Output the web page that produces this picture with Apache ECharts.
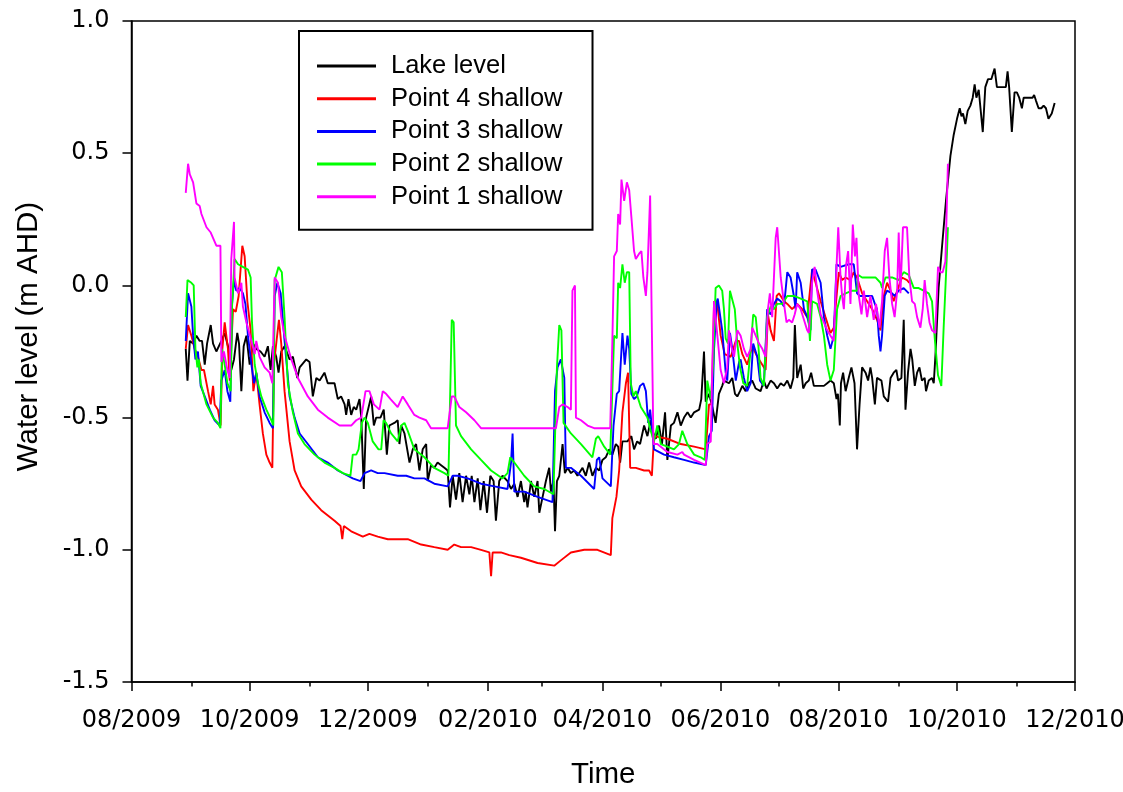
<!DOCTYPE html>
<html>
<head>
<meta charset="utf-8">
<script src="https://cdn.jsdelivr.net/npm/echarts@6/dist/echarts.min.js"></script>
<style>
  html, body { margin: 0; padding: 0; background: #ffffff; }
  #chart { width: 1123px; height: 792px; }
</style>
</head>
<body>
<div id="chart"></div>
<script>
// Water level records. Each entry is [day of record, level in m AHD];
// day 0 is 1 August 2009.
const seriesNames = ['Lake level', 'Point 4 shallow', 'Point 3 shallow', 'Point 2 shallow', 'Point 1 shallow'];
const seriesColors = ['#000000', '#ff0000', '#0000ff', '#00ff00', '#ff00ff'];

const lakeLevel = [
  [28.0,-0.24],[28.9,-0.36],[30.1,-0.21],[31.8,-0.22],[33.5,-0.19],[35.2,-0.21],[36.4,-0.21],[37.8,-0.30],[39.0,-0.22],[40.9,-0.15],
  [42.1,-0.22],[43.8,-0.25],[46.4,-0.21],[48.1,-0.18],[49.8,-0.23],[51.5,-0.32],[52.9,-0.28],[54.6,-0.18],[55.5,-0.22],[56.7,-0.40],
  [57.9,-0.23],[59.3,-0.19],[61.0,-0.30],[62.7,-0.22],[64.4,-0.24],[66.6,-0.25],[68.7,-0.27],[70.4,-0.23],[71.8,-0.32],[73.0,-0.23],
  [74.7,-0.27],[75.9,-0.33],[77.3,-0.25],[79.0,-0.23],[81.6,-0.28],[83.3,-0.27],[85.6,-0.35],[86.8,-0.31],[90.2,-0.28],[91.9,-0.29],
  [93.6,-0.42],[95.4,-0.35],[97.1,-0.36],[99.6,-0.33],[101.3,-0.37],[104.8,-0.37],[106.5,-0.43],[108.2,-0.42],[110.0,-0.45],[110.8,-0.49],
  [112.0,-0.43],[113.4,-0.49],[114.7,-0.46],[116.0,-0.47],[117.7,-0.43],[118.6,-0.50],[119.9,-0.77],[121.1,-0.50],[123.7,-0.42],[125.1,-0.53],
  [126.3,-0.50],[128.5,-0.50],[130.2,-0.47],[131.8,-0.64],[133.1,-0.53],[135.7,-0.52],[137.4,-0.51],[138.3,-0.60],[139.2,-0.53],[140.9,-0.56],
  [143.5,-0.67],[145.2,-0.62],[146.9,-0.60],[148.6,-0.70],[150.3,-0.62],[152.1,-0.60],[152.9,-0.74],[154.6,-0.68],[156.3,-0.69],[158.0,-0.67],
  [159.8,-0.68],[161.5,-0.69],[163.2,-0.70],[164.4,-0.84],[165.8,-0.72],[167.5,-0.81],[169.2,-0.71],[170.9,-0.82],[172.7,-0.72],[174.4,-0.79],
  [175.6,-0.72],[177.0,-0.82],[178.7,-0.73],[180.1,-0.85],[181.8,-0.74],[183.5,-0.86],[185.2,-0.72],[186.9,-0.74],[188.1,-0.89],[189.8,-0.74],
  [191.5,-0.72],[194.1,-0.74],[195.9,-0.77],[197.6,-0.75],[199.3,-0.80],[201.0,-0.74],[202.7,-0.82],[203.5,-0.78],[204.4,-0.84],[206.2,-0.74],
  [207.9,-0.80],[209.6,-0.74],[210.5,-0.86],[212.2,-0.80],[213.9,-0.74],[215.6,-0.69],[216.5,-0.78],[217.8,-0.74],[218.6,-0.93],[219.6,-0.74],
  [220.8,-0.72],[222.5,-0.60],[223.7,-0.71],[225.1,-0.69],[226.8,-0.71],[228.5,-0.70],[230.2,-0.72],[232.8,-0.69],[234.5,-0.72],[236.2,-0.67],
  [237.9,-0.72],[239.7,-0.69],[241.4,-0.70],[243.1,-0.66],[244.8,-0.65],[246.6,-0.62],[248.2,-0.64],[250.0,-0.60],[251.2,-0.61],[252.2,-0.67],
  [253.4,-0.59],[256.0,-0.59],[258.0,-0.57],[259.4,-0.62],[261.0,-0.59],[262.5,-0.60],[264.6,-0.53],[266.3,-0.57],[268.0,-0.51],[269.4,-0.56],
  [270.6,-0.58],[272.3,-0.53],[273.8,-0.60],[275.4,-0.48],[276.6,-0.66],[278.4,-0.53],[280.0,-0.52],[281.8,-0.48],[283.5,-0.53],[285.2,-0.50],
  [287.0,-0.48],[288.7,-0.50],[290.4,-0.48],[293.0,-0.47],[294.1,-0.43],[295.5,-0.25],[296.4,-0.44],[298.1,-0.41],[299.8,-0.46],[301.5,-0.52],
  [303.2,-0.41],[304.9,-0.38],[305.8,-0.36],[308.4,-0.37],[310.1,-0.35],[311.5,-0.41],[312.7,-0.42],[314.1,-0.40],[315.3,-0.38],[317.0,-0.40],
  [318.6,-0.37],[320.4,-0.36],[322.2,-0.39],[324.7,-0.40],[326.4,-0.36],[327.8,-0.39],[329.9,-0.36],[331.6,-0.37],[333.3,-0.39],[335.1,-0.37],
  [336.8,-0.38],[338.5,-0.36],[340.2,-0.39],[341.6,-0.35],[342.4,-0.15],[343.6,-0.35],[345.4,-0.30],[346.7,-0.39],[348.0,-0.37],[349.6,-0.36],
  [350.8,-0.33],[352.2,-0.38],[353.9,-0.38],[355.7,-0.38],[357.4,-0.38],[359.1,-0.37],[360.8,-0.36],[362.5,-0.37],[363.9,-0.43],[364.6,-0.41],
  [365.6,-0.53],[366.2,-0.37],[367.3,-0.33],[368.6,-0.40],[370.2,-0.35],[371.6,-0.31],[373.2,-0.37],[374.5,-0.62],[375.8,-0.45],[377.1,-0.31],
  [378.9,-0.33],[380.2,-0.36],[381.4,-0.31],[382.3,-0.35],[383.7,-0.45],[384.8,-0.35],[387.1,-0.36],[388.3,-0.42],[390.5,-0.44],[391.8,-0.35],
  [393.4,-0.33],[394.8,-0.32],[395.7,-0.36],[397.4,-0.35],[398.6,-0.13],[399.5,-0.47],[400.8,-0.33],[402.1,-0.24],[403.0,-0.28],[404.3,-0.38],
  [405.5,-0.33],[406.7,-0.31],[408.0,-0.36],[409.4,-0.35],[410.1,-0.40],[411.5,-0.36],[413.2,-0.35],[414.1,-0.37],[415.0,-0.26],[416.6,-0.01],
  [418.4,0.15],[420.4,0.32],[422.7,0.49],[424.4,0.57],[426.1,0.63],[427.5,0.67],[428.4,0.64],[429.2,0.65],[430.4,0.61],[431.6,0.66],
  [433.0,0.68],[434.2,0.71],[435.2,0.76],[436.1,0.71],[437.3,0.74],[438.2,0.74],[439.4,0.58],[440.7,0.75],[442.1,0.78],[443.8,0.78],
  [445.5,0.82],[446.7,0.75],[448.4,0.75],[450.1,0.75],[451.3,0.75],[452.2,0.81],[453.0,0.75],[454.4,0.58],[455.8,0.73],[457.0,0.73],
  [458.2,0.71],[459.6,0.67],[460.5,0.71],[462.2,0.71],[463.9,0.71],[465.1,0.71],[465.9,0.72],[466.8,0.70],[468.2,0.67],[469.6,0.67],
  [470.8,0.68],[472.0,0.67],[473.3,0.63],[475.0,0.65],[476.5,0.69]
];

const point4Shallow = [
  [28.0,-0.24],[29.2,-0.15],[30.9,-0.19],[32.6,-0.24],[34.3,-0.27],[36.1,-0.32],[37.4,-0.32],[39.5,-0.40],[40.9,-0.45],[42.1,-0.38],
  [42.9,-0.45],[44.6,-0.47],[46.0,-0.53],[46.9,-0.24],[48.1,-0.14],[49.8,-0.24],[50.7,-0.36],[52.4,-0.09],[53.8,-0.10],[55.3,-0.04],
  [57.2,0.15],[58.4,0.11],[59.8,-0.06],[61.5,-0.17],[62.9,-0.40],[64.4,-0.33],[66.1,-0.45],[67.8,-0.56],[69.6,-0.64],[71.3,-0.67],
  [72.7,-0.69],[73.5,-0.30],[74.7,-0.22],[76.1,-0.13],[77.3,-0.22],[79.0,-0.40],[81.6,-0.59],[84.2,-0.70],[87.6,-0.76],[92.8,-0.81],
  [97.9,-0.85],[104.8,-0.89],[107.9,-0.91],[108.8,-0.96],[109.6,-0.91],[113.4,-0.93],[119.4,-0.95],[122.8,-0.94],[127.1,-0.95],[132.3,-0.96],
  [142.6,-0.96],[149.5,-0.98],[156.3,-0.99],[163.2,-1.00],[166.6,-0.98],[170.1,-0.99],[175.3,-0.99],[180.4,-1.00],[184.7,-1.01],[185.6,-1.10],
  [186.4,-1.01],[190.7,-1.01],[195.0,-1.02],[201.0,-1.03],[209.6,-1.05],[218.2,-1.06],[221.6,-1.04],[226.8,-1.01],[233.7,-1.00],[240.5,-1.00],
  [247.4,-1.02],[248.2,-0.88],[250.3,-0.80],[251.7,-0.70],[253.4,-0.48],[255.2,-0.37],[256.3,-0.33],[257.4,-0.69],[260.3,-0.69],[264.6,-0.70],
  [267.2,-0.70],[268.6,-0.72],[269.7,-0.57],[276.6,-0.58],[283.5,-0.60],[290.4,-0.61],[296.4,-0.62],[298.1,-0.45],[299.5,-0.45],[300.7,-0.06],
  [302.4,-0.07],[304.1,-0.19],[306.2,-0.26],[309.3,-0.27],[311.9,-0.21],[313.6,-0.21],[315.3,-0.26],[317.8,-0.30],[320.4,-0.23],[323.0,-0.27],
  [325.6,-0.30],[327.3,-0.32],[328.5,-0.11],[329.9,-0.17],[331.6,-0.21],[333.0,-0.04],[334.2,-0.03],[336.8,-0.06],[338.5,-0.07],[341.0,-0.09],
  [343.6,-0.07],[346.2,-0.09],[348.8,-0.12],[351.3,0.06],[353.1,0.01],[355.7,-0.06],[358.2,-0.12],[360.8,-0.18],[362.5,-0.16],[364.2,-0.02],
  [365.1,0.05],[366.8,0.02],[368.6,0.03],[371.1,0.02],[372.8,0.05],[374.5,0.03],[377.1,-0.03],[379.7,-0.06],[382.3,-0.09],[384.8,-0.13],
  [386.6,-0.17],[388.3,-0.04],[390.0,0.01],[391.8,-0.02],[393.4,-0.06],[395.2,-0.02],[397.7,0.03],[400.3,0.02],[401.5,0.01]
];

const point3Shallow = [
  [28.0,-0.21],[29.2,-0.03],[30.9,-0.08],[31.8,-0.19],[33.0,-0.28],[34.3,-0.25],[35.7,-0.38],[37.8,-0.42],[40.4,-0.47],[42.9,-0.51],
  [45.5,-0.53],[46.4,-0.36],[48.1,-0.32],[49.5,-0.40],[51.0,-0.44],[51.9,-0.07],[52.9,0.02],[54.1,-0.02],[55.8,-0.01],[57.5,-0.03],
  [58.8,-0.07],[60.1,-0.19],[61.9,-0.30],[63.2,-0.37],[64.4,-0.33],[66.1,-0.42],[68.7,-0.48],[71.3,-0.52],[73.0,-0.54],[73.9,-0.04],
  [75.3,0.01],[77.0,-0.03],[79.0,-0.21],[81.6,-0.42],[84.2,-0.50],[86.8,-0.56],[91.0,-0.60],[96.2,-0.65],[101.3,-0.67],[106.5,-0.70],
  [111.6,-0.72],[114.2,-0.73],[118.2,-0.74],[120.3,-0.71],[123.7,-0.70],[127.1,-0.71],[130.6,-0.71],[137.4,-0.72],[141.8,-0.72],[146.0,-0.73],
  [151.2,-0.73],[156.3,-0.75],[163.2,-0.76],[165.8,-0.72],[168.4,-0.72],[173.5,-0.73],[180.4,-0.75],[187.3,-0.76],[194.1,-0.77],[195.9,-0.67],
  [196.7,-0.56],[197.6,-0.78],[202.7,-0.78],[209.6,-0.80],[217.3,-0.82],[218.6,-0.40],[219.9,-0.31],[221.6,-0.28],[223.4,-0.35],[224.2,-0.69],
  [226.8,-0.69],[232.0,-0.72],[238.8,-0.77],[240.2,-0.66],[241.4,-0.65],[243.1,-0.73],[247.4,-0.76],[248.8,-0.53],[250.5,-0.41],[251.7,-0.40],
  [253.4,-0.18],[254.6,-0.30],[256.0,-0.19],[256.9,-0.24],[258.0,-0.41],[259.4,-0.43],[260.8,-0.42],[262.5,-0.38],[264.2,-0.37],[265.5,-0.40],
  [266.7,-0.52],[267.7,-0.47],[268.9,-0.56],[269.7,-0.62],[274.9,-0.64],[280.0,-0.65],[285.2,-0.66],[290.4,-0.67],[296.4,-0.68],[298.1,-0.57],
  [299.5,-0.55],[300.7,-0.24],[302.1,-0.06],[302.6,-0.05],[304.9,-0.17],[306.7,-0.33],[307.5,-0.36],[308.9,-0.18],[310.1,-0.24],[311.9,-0.36],
  [313.6,-0.29],[314.4,-0.28],[316.1,-0.35],[317.8,-0.40],[319.6,-0.37],[320.9,-0.22],[323.0,-0.27],[324.4,-0.36],[326.4,-0.38],[328.1,-0.09],
  [329.9,-0.11],[331.6,-0.07],[333.3,-0.05],[335.1,-0.06],[336.8,-0.08],[338.5,0.05],[340.2,0.03],[341.9,-0.04],[342.8,-0.09],[343.6,0.05],
  [345.4,0.01],[347.1,-0.09],[348.8,-0.12],[350.5,-0.17],[351.3,0.06],[353.1,0.06],[355.7,0.01],[357.4,-0.12],[359.1,-0.19],[360.8,-0.24],
  [362.5,-0.19],[363.9,0.08],[366.0,0.07],[370.2,0.08],[372.8,0.08],[374.5,-0.03],[376.0,-0.04],[378.9,-0.04],[382.3,-0.04],[383.7,-0.07],
  [384.8,-0.09],[385.7,-0.19],[386.6,-0.25],[387.4,-0.19],[388.8,-0.04],[390.0,-0.02],[392.6,-0.03],[393.9,-0.04],[396.0,-0.02],[398.6,-0.01],
  [401.2,-0.03]
];

const point2Shallow = [
  [28.0,-0.12],[28.9,0.02],[30.9,0.01],[32.1,0.00],[33.0,-0.24],[34.0,-0.31],[34.8,-0.28],[35.7,-0.37],[38.7,-0.45],[42.1,-0.50],
  [44.6,-0.52],[45.9,-0.54],[46.7,-0.24],[48.1,-0.30],[49.5,-0.37],[51.2,-0.40],[51.9,-0.08],[53.2,0.10],[55.0,0.08],[57.5,0.07],
  [60.1,0.06],[61.5,0.03],[62.2,-0.14],[63.6,-0.30],[65.3,-0.37],[67.0,-0.42],[69.6,-0.47],[72.2,-0.51],[73.2,-0.53],[73.9,0.02],
  [75.9,0.07],[77.6,0.05],[79.0,-0.12],[80.7,-0.37],[83.3,-0.48],[85.9,-0.56],[89.3,-0.60],[94.5,-0.64],[99.6,-0.67],[104.8,-0.69],
  [109.1,-0.71],[113.0,-0.72],[114.2,-0.64],[116.0,-0.64],[117.2,-0.62],[118.9,-0.52],[120.3,-0.50],[122.0,-0.52],[124.5,-0.59],[127.5,-0.62],
  [128.9,-0.62],[130.1,-0.51],[131.4,-0.52],[134.0,-0.56],[137.4,-0.59],[139.2,-0.53],[140.9,-0.52],[142.6,-0.55],[146.0,-0.62],[151.2,-0.65],
  [156.3,-0.69],[161.5,-0.71],[163.6,-0.72],[165.3,-0.13],[166.3,-0.14],[167.5,-0.53],[170.1,-0.57],[175.3,-0.62],[180.4,-0.66],[185.6,-0.70],
  [191.5,-0.73],[194.1,-0.71],[195.5,-0.65],[197.6,-0.67],[202.7,-0.72],[207.9,-0.76],[213.0,-0.77],[217.8,-0.79],[219.6,-0.31],[220.8,-0.15],
  [221.9,-0.17],[223.0,-0.52],[226.8,-0.56],[232.0,-0.60],[237.9,-0.65],[239.7,-0.58],[240.9,-0.57],[244.0,-0.61],[247.1,-0.64],[249.1,-0.19],
  [250.5,-0.20],[251.2,0.01],[252.2,-0.01],[253.4,0.08],[254.6,0.01],[255.7,0.05],[256.9,0.05],[257.7,-0.37],[259.1,-0.42],[260.3,-0.40],
  [262.9,-0.46],[264.6,-0.48],[266.3,-0.50],[268.0,-0.55],[269.7,-0.59],[271.4,-0.53],[273.2,-0.60],[276.6,-0.61],[280.0,-0.62],[282.6,-0.60],
  [284.3,-0.55],[286.9,-0.60],[290.4,-0.64],[293.8,-0.65],[295.9,-0.66],[297.2,-0.36],[299.0,-0.43],[300.3,-0.29],[301.5,-0.01],[303.2,0.00],
  [304.9,-0.02],[305.8,-0.09],[306.7,-0.20],[307.9,-0.22],[308.9,-0.02],[309.6,-0.02],[311.4,-0.09],[312.7,-0.22],[314.1,-0.31],[315.8,-0.37],
  [317.8,-0.38],[319.6,-0.24],[320.9,-0.11],[322.2,-0.12],[323.5,-0.22],[324.7,-0.35],[326.4,-0.38],[328.1,-0.12],[329.9,-0.08],[331.6,-0.09],
  [333.3,-0.07],[335.9,-0.07],[338.5,-0.04],[341.9,-0.04],[345.4,-0.05],[348.8,-0.06],[350.2,-0.21],[351.3,-0.06],[353.9,-0.07],[355.7,-0.12],
  [357.4,-0.19],[359.1,-0.30],[360.8,-0.36],[362.5,-0.32],[364.2,-0.09],[366.0,-0.04],[368.6,-0.03],[372.0,-0.02],[374.5,-0.02],[375.0,0.04],
  [377.1,0.03],[380.6,0.03],[384.0,0.03],[386.6,0.01],[387.4,-0.01],[389.2,0.03],[392.6,0.03],[396.0,0.02],[398.6,0.05],[401.2,0.04],
  [403.8,-0.01],[406.3,-0.01],[408.9,-0.02],[411.5,-0.03],[413.2,-0.06],[414.6,-0.20],[416.3,-0.34],[418.0,-0.38],[419.2,-0.16],[420.9,0.12],
  [421.4,0.22]
];

const point1Shallow = [
  [28.0,0.35],[29.2,0.46],[30.1,0.42],[31.8,0.39],[33.5,0.31],[35.2,0.30],[36.1,0.27],[38.7,0.22],[40.9,0.20],[43.8,0.15],
  [45.9,0.15],[46.4,-0.29],[47.7,-0.25],[49.5,-0.32],[50.7,-0.35],[51.5,0.10],[52.9,0.24],[53.2,0.03],[55.0,-0.03],[56.7,0.01],
  [57.5,-0.08],[59.3,-0.14],[61.9,-0.21],[63.6,-0.26],[64.4,-0.21],[66.1,-0.27],[68.7,-0.31],[71.3,-0.33],[72.7,-0.37],[73.9,0.03],
  [75.6,0.01],[77.3,-0.12],[79.0,-0.19],[82.5,-0.28],[85.9,-0.35],[91.0,-0.42],[96.2,-0.47],[101.3,-0.50],[107.4,-0.53],[113.4,-0.53],
  [116.0,-0.51],[118.6,-0.50],[120.8,-0.40],[122.8,-0.40],[125.1,-0.45],[128.0,-0.47],[129.7,-0.40],[131.4,-0.41],[133.7,-0.43],[137.4,-0.46],
  [140.0,-0.42],[142.6,-0.45],[146.0,-0.49],[148.6,-0.50],[152.1,-0.51],[154.6,-0.54],[163.2,-0.54],[165.3,-0.42],[166.6,-0.42],[169.2,-0.46],
  [172.7,-0.48],[177.0,-0.51],[180.4,-0.54],[219.1,-0.54],[220.8,-0.46],[222.5,-0.45],[225.1,-0.46],[226.8,-0.47],[227.6,-0.02],[228.9,0.00],
  [229.4,-0.50],[232.0,-0.51],[235.4,-0.53],[238.8,-0.54],[247.1,-0.54],[248.2,-0.21],[249.1,0.11],[250.5,0.13],[251.2,0.27],[252.2,0.23],
  [252.9,0.40],[254.3,0.32],[255.7,0.39],[256.9,0.36],[258.0,0.26],[259.4,0.13],[260.3,0.10],[262.0,0.12],[263.2,0.13],[264.2,0.03],
  [265.5,-0.04],[266.3,0.05],[267.7,0.34],[268.6,-0.17],[269.4,-0.60],[271.4,-0.60],[276.6,-0.63],[281.8,-0.64],[284.3,-0.63],[285.2,-0.64],
  [290.4,-0.66],[296.4,-0.68],[297.2,-0.60],[299.0,-0.59],[299.8,-0.30],[300.7,-0.06],[302.4,-0.19],[304.1,-0.32],[305.8,-0.37],[307.5,-0.31],
  [308.4,-0.17],[309.6,-0.23],[311.0,-0.27],[312.7,-0.17],[314.4,-0.19],[316.1,-0.24],[317.8,-0.27],[319.6,-0.24],[320.4,-0.16],[322.2,-0.19],
  [323.9,-0.22],[325.6,-0.24],[327.3,-0.27],[328.5,-0.09],[329.5,-0.03],[330.7,-0.12],[332.5,0.18],[333.3,0.22],[335.1,0.03],[336.8,-0.07],
  [338.1,-0.14],[339.3,-0.13],[341.0,-0.14],[342.3,-0.11],[343.6,-0.07],[345.4,-0.09],[347.1,-0.13],[348.8,-0.17],[349.6,-0.18],[351.3,0.01],
  [352.6,0.07],[353.9,-0.02],[355.7,-0.11],[357.4,-0.14],[359.1,-0.17],[360.8,-0.19],[362.5,-0.21],[363.9,0.07],[364.8,0.22],[366.0,0.03],
  [366.8,-0.04],[367.7,-0.09],[368.9,0.08],[369.9,0.13],[371.1,-0.07],[372.3,0.23],[373.4,0.11],[374.2,0.18],[375.4,-0.04],[376.8,-0.11],
  [378.0,-0.02],[379.7,-0.12],[381.4,-0.04],[383.1,-0.13],[384.3,-0.07],[386.1,-0.16],[387.4,-0.06],[388.8,0.13],[390.0,0.18],[391.2,0.03],
  [392.6,-0.07],[393.9,-0.12],[395.2,-0.02],[396.0,0.20],[396.9,-0.03],[398.2,0.22],[400.3,0.22],[401.5,0.03],[402.9,-0.06],[404.3,-0.07],
  [405.5,-0.12],[407.2,-0.16],[408.4,-0.09],[409.4,0.02],[410.6,-0.07],[411.9,-0.14],[413.2,-0.17],[414.9,-0.18],[416.3,0.07],[417.5,0.05],
  [418.7,0.05],[420.1,0.09],[420.9,0.32],[421.4,0.46]
];

// Axis ticks: month starts, labelled every second month.
const majorTickMonths = [[2009, 7], [2009, 9], [2009, 11], [2010, 1], [2010, 3], [2010, 5], [2010, 7], [2010, 9], [2010, 11]];
const minorTickMonths = [[2009, 8], [2009, 10], [2010, 0], [2010, 2], [2010, 4], [2010, 6], [2010, 8], [2010, 10]];
const yTickValues = [-1.5, -1.0, -0.5, 0.0, 0.5, 1.0];

const DAY0 = Date.UTC(2009, 7, 1);
const MS_PER_DAY = 86400000;
const dayOfMonthStart = ([y, m]) => (Date.UTC(y, m, 1) - DAY0) / MS_PER_DAY;
const monthLabel = (day) => {
  const d = new Date(DAY0 + Math.round(day) * MS_PER_DAY);
  return String(d.getUTCMonth() + 1).padStart(2, '0') + '/' + d.getUTCFullYear();
};

const majorDays = majorTickMonths.map(dayOfMonthStart);
const minorDays = minorTickMonths.map(dayOfMonthStart);
const xMin = majorDays[0];
const xMax = majorDays[majorDays.length - 1];

const FONT = "'Liberation Sans', Arial, Helvetica, sans-serif";
const TICK_FONT = "'DejaVu Sans', 'Liberation Sans', Arial, sans-serif";
const AXIS_COLOR = '#000000';

const chart = echarts.init(document.getElementById('chart'), null, { renderer: 'canvas' });

const seriesData = [lakeLevel, point4Shallow, point3Shallow, point2Shallow, point1Shallow];

chart.setOption({
  animation: false,
  backgroundColor: '#ffffff',
  grid: {
    left: 131.5, right: 48, top: 21, bottom: 110,
    containLabel: false, outerBoundsMode: 'none',
    show: true, borderColor: AXIS_COLOR, borderWidth: 1.5, backgroundColor: 'transparent'
  },
  legend: {
    orient: 'vertical',
    left: 299, top: 31,
    padding: [22, 30, 20, 18],
    borderColor: AXIS_COLOR, borderWidth: 2,
    backgroundColor: '#ffffff',
    itemWidth: 59, itemHeight: 3, itemGap: 6.7,
    icon: 'rect',
    data: seriesNames,
    textStyle: { fontFamily: FONT, fontSize: 25.5, color: '#000000', lineHeight: 26, padding: [0, 0, 0, 10] }
  },
  xAxis: [
    {
      type: 'value', min: xMin, max: xMax,
      name: 'Time', nameLocation: 'middle', nameGap: 78,
      nameTextStyle: { fontFamily: FONT, fontSize: 29.5, color: '#000000' },
      axisLine: { show: true, onZero: false, lineStyle: { color: AXIS_COLOR, width: 1.5 } },
      axisTick: { show: true, inside: false, length: 9, customValues: majorDays, lineStyle: { color: AXIS_COLOR, width: 1.5 } },
      axisLabel: {
        show: true, customValues: majorDays, margin: 27,
        fontFamily: TICK_FONT, fontSize: 24, color: '#000000',
        formatter: (v) => monthLabel(v)
      },
      splitLine: { show: false }
    },
    {
      type: 'value', min: xMin, max: xMax, position: 'bottom',
      axisLine: { show: false, onZero: false },
      axisTick: { show: true, inside: false, length: 4.5, customValues: minorDays, lineStyle: { color: AXIS_COLOR, width: 1.5 } },
      axisLabel: { show: false },
      splitLine: { show: false }
    }
  ],
  yAxis: {
    type: 'value', min: yTickValues[0], max: yTickValues[yTickValues.length - 1], interval: 0.5,
    name: 'Water level (m AHD)', nameLocation: 'middle', nameGap: 88,
    nameTextStyle: { fontFamily: FONT, fontSize: 29.5, color: '#000000', padding: [0, 0, 0, 30] },
    axisLine: { show: true, onZero: false, lineStyle: { color: AXIS_COLOR, width: 1.5 } },
    axisTick: { show: true, inside: false, length: 9, lineStyle: { color: AXIS_COLOR, width: 1.5 } },
    axisLabel: {
      margin: 22, fontFamily: TICK_FONT, fontSize: 24, color: '#000000',
      formatter: (v) => v.toFixed(1)
    },
    splitLine: { show: false }
  },
  series: seriesNames.map((name, i) => ({
    name,
    type: 'line',
    xAxisIndex: 0,
    data: seriesData[i],
    showSymbol: false,
    symbol: 'none',
    color: seriesColors[i],
    lineStyle: { color: seriesColors[i], width: 1.9 },
    itemStyle: { color: seriesColors[i] },
    z: 2 + i
  }))
});
</script>
</body>
</html>
